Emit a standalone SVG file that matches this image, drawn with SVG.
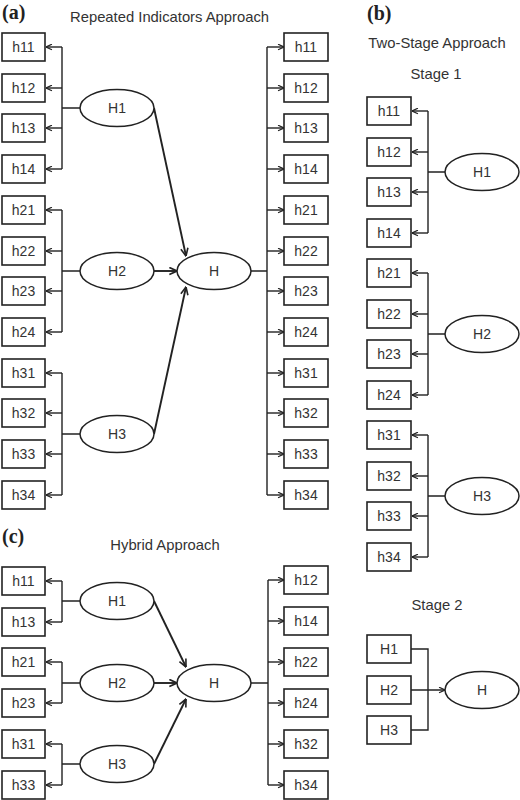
<svg xmlns="http://www.w3.org/2000/svg" width="520" height="800" viewBox="0 0 520 800">
<defs>
<marker id="arr" viewBox="0 0 10 10" refX="9.5" refY="5" markerWidth="7" markerHeight="7" orient="auto" markerUnits="userSpaceOnUse">
<path d="M1,1 L9.5,5 L1,9" fill="none" stroke="#222" stroke-width="1.8"/>
</marker>
<marker id="arrB" viewBox="0 0 10 10" refX="9.5" refY="5" markerWidth="9" markerHeight="9" orient="auto" markerUnits="userSpaceOnUse">
<path d="M1,1 L9.5,5 L1,9" fill="none" stroke="#222" stroke-width="1.8"/>
</marker>
</defs>
<style>
.box{fill:#fff;stroke:#222;stroke-width:1.6}
.ell{fill:#fff;stroke:#222;stroke-width:1.5}
.lbl{font-family:"Liberation Sans",Arial,sans-serif;font-size:14px;fill:#333;text-anchor:middle}
.ttl{font-family:"Liberation Sans",Arial,sans-serif;font-size:14.8px;fill:#333}
.pan{font-family:"Liberation Serif","Times New Roman",serif;font-size:20px;font-weight:bold;fill:#222}
.ln{fill:none;stroke:#222;stroke-width:1.4}
.la{fill:none;stroke:#222;stroke-width:1.4;marker-end:url(#arr)}
.big{fill:none;stroke:#222;stroke-width:1.9;marker-end:url(#arrB)}
</style>
<rect width="520" height="800" fill="#fff"/>

<!-- titles -->
<text class="pan" x="2" y="19">(a)</text>
<text class="ttl" x="70" y="22">Repeated Indicators Approach</text>
<text class="pan" x="367" y="20">(b)</text>
<text class="ttl" x="437" y="48" text-anchor="middle">Two-Stage Approach</text>
<text class="ttl" x="436" y="79" text-anchor="middle">Stage 1</text>
<text class="ttl" x="437" y="610" text-anchor="middle">Stage 2</text>
<text class="pan" x="2" y="543">(c)</text>
<text class="ttl" x="165" y="550" text-anchor="middle">Hybrid Approach</text>

<!-- connectors -->
<g id="connectors">
<!-- (a) left brackets -->
<path class="ln" d="M62,47 V169 M62,108 H80"/>
<path class="la" d="M62,47 H46"/><path class="la" d="M62,88 H46"/><path class="la" d="M62,128 H46"/><path class="la" d="M62,169 H46"/>
<path class="ln" d="M62,210 V332 M62,271 H80"/>
<path class="la" d="M62,210 H46"/><path class="la" d="M62,251 H46"/><path class="la" d="M62,291 H46"/><path class="la" d="M62,332 H46"/>
<path class="ln" d="M62,373 V495 M62,434 H80"/>
<path class="la" d="M62,373 H46"/><path class="la" d="M62,413 H46"/><path class="la" d="M62,454 H46"/><path class="la" d="M62,495 H46"/>
<!-- (a) main arrows -->
<path class="big" d="M154,108 L186,256"/>
<path class="big" d="M154,271 L177,271"/>
<path class="big" d="M154,434 L186,287"/>
<!-- (a) right bracket -->
<path class="ln" d="M251,271 H267 M267,47 V495"/>
<path class="la" d="M267,47 H284"/><path class="la" d="M267,88 H284"/><path class="la" d="M267,128 H284"/><path class="la" d="M267,169 H284"/>
<path class="la" d="M267,210 H284"/><path class="la" d="M267,251 H284"/><path class="la" d="M267,291 H284"/><path class="la" d="M267,332 H284"/>
<path class="la" d="M267,373 H284"/><path class="la" d="M267,413 H284"/><path class="la" d="M267,454 H284"/><path class="la" d="M267,495 H284"/>

<!-- (b) stage 1 -->
<path class="ln" d="M428,111 V233 M428,172 H445"/>
<path class="la" d="M428,111 H412"/><path class="la" d="M428,152 H412"/><path class="la" d="M428,192 H412"/><path class="la" d="M428,233 H412"/>
<path class="ln" d="M428,273 V395 M428,334 H445"/>
<path class="la" d="M428,273 H412"/><path class="la" d="M428,314 H412"/><path class="la" d="M428,354 H412"/><path class="la" d="M428,395 H412"/>
<path class="ln" d="M428,435 V557 M428,496 H445"/>
<path class="la" d="M428,435 H412"/><path class="la" d="M428,476 H412"/><path class="la" d="M428,516 H412"/><path class="la" d="M428,557 H412"/>
<!-- (b) stage 2 -->
<path class="ln" d="M411,649 H428 V730 H411"/>
<path class="la" d="M411,690 H445"/>

<!-- (c) left -->
<path class="ln" d="M62,581 V622 M62,601 H80"/>
<path class="la" d="M62,581 H46"/><path class="la" d="M62,622 H46"/>
<path class="ln" d="M62,662 V703 M62,683 H80"/>
<path class="la" d="M62,662 H46"/><path class="la" d="M62,703 H46"/>
<path class="ln" d="M62,744 V785 M62,764 H80"/>
<path class="la" d="M62,744 H46"/><path class="la" d="M62,785 H46"/>
<!-- (c) main arrows -->
<path class="big" d="M154,601 L186,667"/>
<path class="big" d="M154,683 L177,683"/>
<path class="big" d="M154,764 L186,699"/>
<!-- (c) right -->
<path class="ln" d="M251,683 H268 M268,580 V785"/>
<path class="la" d="M268,580 H284"/><path class="la" d="M268,621 H284"/><path class="la" d="M268,662 H284"/>
<path class="la" d="M268,703 H284"/><path class="la" d="M268,744 H284"/><path class="la" d="M268,785 H284"/>
</g>

<!-- (a) left boxes -->
<g id="a-h11"><rect class="box" x="2" y="33" width="43" height="28"/><text class="lbl" x="23.5" y="52">h11</text></g>
<g id="a-h12"><rect class="box" x="2" y="74" width="43" height="28"/><text class="lbl" x="23.5" y="93">h12</text></g>
<g id="a-h13"><rect class="box" x="2" y="114" width="43" height="28"/><text class="lbl" x="23.5" y="133">h13</text></g>
<g id="a-h14"><rect class="box" x="2" y="155" width="43" height="28"/><text class="lbl" x="23.5" y="174">h14</text></g>
<g id="a-h21"><rect class="box" x="2" y="196" width="43" height="28"/><text class="lbl" x="23.5" y="215">h21</text></g>
<g id="a-h22"><rect class="box" x="2" y="237" width="43" height="28"/><text class="lbl" x="23.5" y="256">h22</text></g>
<g id="a-h23"><rect class="box" x="2" y="277" width="43" height="28"/><text class="lbl" x="23.5" y="296">h23</text></g>
<g id="a-h24"><rect class="box" x="2" y="318" width="43" height="28"/><text class="lbl" x="23.5" y="337">h24</text></g>
<g id="a-h31"><rect class="box" x="2" y="359" width="43" height="28"/><text class="lbl" x="23.5" y="378">h31</text></g>
<g id="a-h32"><rect class="box" x="2" y="399" width="43" height="28"/><text class="lbl" x="23.5" y="418">h32</text></g>
<g id="a-h33"><rect class="box" x="2" y="440" width="43" height="28"/><text class="lbl" x="23.5" y="459">h33</text></g>
<g id="a-h34"><rect class="box" x="2" y="481" width="43" height="28"/><text class="lbl" x="23.5" y="500">h34</text></g>

<!-- (a) ellipses -->
<g id="a-H1"><ellipse class="ell" cx="117" cy="108" rx="37" ry="18.5"/><text class="lbl" x="117" y="113">H1</text></g>
<g id="a-H2"><ellipse class="ell" cx="117" cy="271" rx="37" ry="18.5"/><text class="lbl" x="117" y="276">H2</text></g>
<g id="a-H3"><ellipse class="ell" cx="117" cy="434" rx="37" ry="18.5"/><text class="lbl" x="117" y="439">H3</text></g>
<g id="a-H"><ellipse class="ell" cx="214" cy="271" rx="37" ry="18.5"/><text class="lbl" x="214" y="276">H</text></g>

<!-- (a) right boxes -->
<g id="ar-h11"><rect class="box" x="284" y="33" width="44" height="28"/><text class="lbl" x="306" y="52">h11</text></g>
<g id="ar-h12"><rect class="box" x="284" y="74" width="44" height="28"/><text class="lbl" x="306" y="93">h12</text></g>
<g id="ar-h13"><rect class="box" x="284" y="114" width="44" height="28"/><text class="lbl" x="306" y="133">h13</text></g>
<g id="ar-h14"><rect class="box" x="284" y="155" width="44" height="28"/><text class="lbl" x="306" y="174">h14</text></g>
<g id="ar-h21"><rect class="box" x="284" y="196" width="44" height="28"/><text class="lbl" x="306" y="215">h21</text></g>
<g id="ar-h22"><rect class="box" x="284" y="237" width="44" height="28"/><text class="lbl" x="306" y="256">h22</text></g>
<g id="ar-h23"><rect class="box" x="284" y="277" width="44" height="28"/><text class="lbl" x="306" y="296">h23</text></g>
<g id="ar-h24"><rect class="box" x="284" y="318" width="44" height="28"/><text class="lbl" x="306" y="337">h24</text></g>
<g id="ar-h31"><rect class="box" x="284" y="359" width="44" height="28"/><text class="lbl" x="306" y="378">h31</text></g>
<g id="ar-h32"><rect class="box" x="284" y="399" width="44" height="28"/><text class="lbl" x="306" y="418">h32</text></g>
<g id="ar-h33"><rect class="box" x="284" y="440" width="44" height="28"/><text class="lbl" x="306" y="459">h33</text></g>
<g id="ar-h34"><rect class="box" x="284" y="481" width="44" height="28"/><text class="lbl" x="306" y="500">h34</text></g>

<!-- (b) stage 1 boxes -->
<g id="b-h11"><rect class="box" x="367" y="97" width="44" height="28"/><text class="lbl" x="389" y="116">h11</text></g>
<g id="b-h12"><rect class="box" x="367" y="138" width="44" height="28"/><text class="lbl" x="389" y="157">h12</text></g>
<g id="b-h13"><rect class="box" x="367" y="178" width="44" height="28"/><text class="lbl" x="389" y="197">h13</text></g>
<g id="b-h14"><rect class="box" x="367" y="219" width="44" height="28"/><text class="lbl" x="389" y="238">h14</text></g>
<g id="b-h21"><rect class="box" x="367" y="259" width="44" height="28"/><text class="lbl" x="389" y="278">h21</text></g>
<g id="b-h22"><rect class="box" x="367" y="300" width="44" height="28"/><text class="lbl" x="389" y="319">h22</text></g>
<g id="b-h23"><rect class="box" x="367" y="340" width="44" height="28"/><text class="lbl" x="389" y="359">h23</text></g>
<g id="b-h24"><rect class="box" x="367" y="381" width="44" height="28"/><text class="lbl" x="389" y="400">h24</text></g>
<g id="b-h31"><rect class="box" x="367" y="421" width="44" height="28"/><text class="lbl" x="389" y="440">h31</text></g>
<g id="b-h32"><rect class="box" x="367" y="462" width="44" height="28"/><text class="lbl" x="389" y="481">h32</text></g>
<g id="b-h33"><rect class="box" x="367" y="502" width="44" height="28"/><text class="lbl" x="389" y="521">h33</text></g>
<g id="b-h34"><rect class="box" x="367" y="543" width="44" height="28"/><text class="lbl" x="389" y="562">h34</text></g>

<g id="b-H1"><ellipse class="ell" cx="482" cy="172" rx="37" ry="18.5"/><text class="lbl" x="482" y="177">H1</text></g>
<g id="b-H2"><ellipse class="ell" cx="482" cy="334" rx="37" ry="18.5"/><text class="lbl" x="482" y="339">H2</text></g>
<g id="b-H3"><ellipse class="ell" cx="482" cy="496" rx="37" ry="18.5"/><text class="lbl" x="482" y="501">H3</text></g>

<!-- (b) stage 2 -->
<g id="b2-H1"><rect class="box" x="367" y="635" width="44" height="28"/><text class="lbl" x="389" y="654">H1</text></g>
<g id="b2-H2"><rect class="box" x="367" y="676" width="44" height="28"/><text class="lbl" x="389" y="695">H2</text></g>
<g id="b2-H3"><rect class="box" x="367" y="716" width="44" height="28"/><text class="lbl" x="389" y="735">H3</text></g>
<g id="b2-H"><ellipse class="ell" cx="482" cy="690" rx="37" ry="18.5"/><text class="lbl" x="482" y="695">H</text></g>

<!-- (c) left boxes -->
<g id="c-h11"><rect class="box" x="2" y="567" width="43" height="28"/><text class="lbl" x="23.5" y="586">h11</text></g>
<g id="c-h13"><rect class="box" x="2" y="608" width="43" height="28"/><text class="lbl" x="23.5" y="627">h13</text></g>
<g id="c-h21"><rect class="box" x="2" y="648" width="43" height="28"/><text class="lbl" x="23.5" y="667">h21</text></g>
<g id="c-h23"><rect class="box" x="2" y="689" width="43" height="28"/><text class="lbl" x="23.5" y="708">h23</text></g>
<g id="c-h31"><rect class="box" x="2" y="730" width="43" height="28"/><text class="lbl" x="23.5" y="749">h31</text></g>
<g id="c-h33"><rect class="box" x="2" y="771" width="43" height="28"/><text class="lbl" x="23.5" y="790">h33</text></g>

<g id="c-H1"><ellipse class="ell" cx="117" cy="601" rx="37" ry="18.5"/><text class="lbl" x="117" y="606">H1</text></g>
<g id="c-H2"><ellipse class="ell" cx="117" cy="683" rx="37" ry="18.5"/><text class="lbl" x="117" y="688">H2</text></g>
<g id="c-H3"><ellipse class="ell" cx="117" cy="764" rx="37" ry="18.5"/><text class="lbl" x="117" y="769">H3</text></g>
<g id="c-H"><ellipse class="ell" cx="214" cy="683" rx="37" ry="18.5"/><text class="lbl" x="214" y="688">H</text></g>

<!-- (c) right boxes -->
<g id="cr-h12"><rect class="box" x="284" y="566" width="44" height="28"/><text class="lbl" x="306" y="585">h12</text></g>
<g id="cr-h14"><rect class="box" x="284" y="607" width="44" height="28"/><text class="lbl" x="306" y="626">h14</text></g>
<g id="cr-h22"><rect class="box" x="284" y="648" width="44" height="28"/><text class="lbl" x="306" y="667">h22</text></g>
<g id="cr-h24"><rect class="box" x="284" y="689" width="44" height="28"/><text class="lbl" x="306" y="708">h24</text></g>
<g id="cr-h32"><rect class="box" x="284" y="730" width="44" height="28"/><text class="lbl" x="306" y="749">h32</text></g>
<g id="cr-h34"><rect class="box" x="284" y="771" width="44" height="28"/><text class="lbl" x="306" y="790">h34</text></g>
</svg>
